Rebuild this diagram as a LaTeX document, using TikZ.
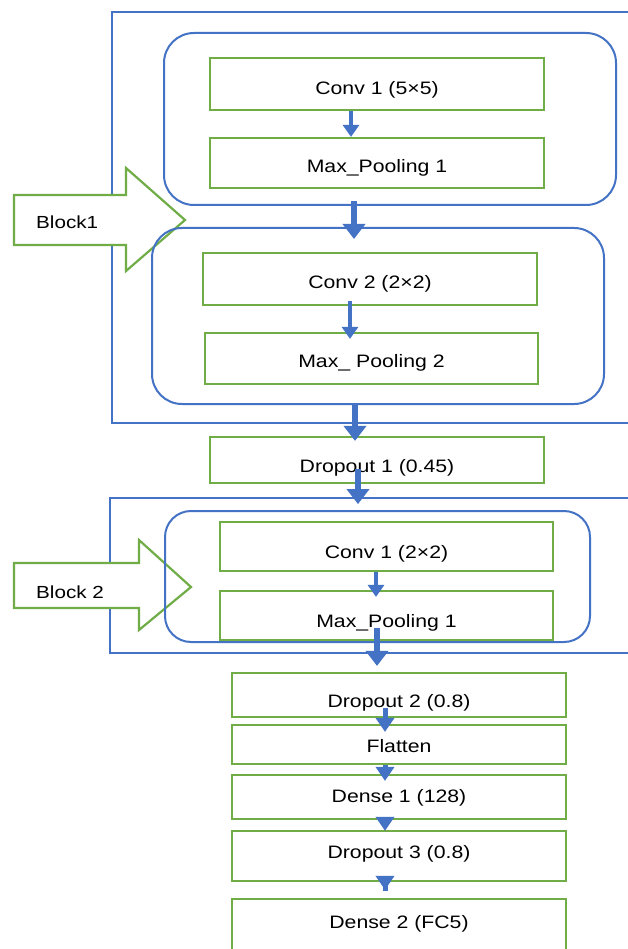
\documentclass[tikz,border=0pt]{standalone}
\usepackage{fontspec}
\setmainfont{Liberation Sans}[FakeStretch=1.18]
\usetikzlibrary{arrows.meta}
\definecolor{bblue}{HTML}{4472C4}
\definecolor{bgreen}{HTML}{70AD47}
\begin{document}
\begin{tikzpicture}[x=1pt,y=-1pt,
  lay/.style={draw=bgreen, line width=2.2pt, fill=white, minimum width=334pt, inner sep=0pt, text depth=0pt, font=\fontsize{18}{20}\selectfont},
  rbox/.style={draw=bblue, line width=2pt, rounded corners=30pt, inner sep=0pt},
  obox/.style={draw=bblue, line width=1.8pt, inner sep=0pt},
  barrow/.style={draw=bgreen, line width=2.2pt, fill=white, line join=miter},
  lbl/.style={inner sep=0pt, font=\fontsize{17.5}{20}\selectfont},
  thinarr/.style={draw=bblue, line width=3.5pt, -{Triangle[width=16pt,length=12pt]}},
  thickarr/.style={draw=bblue, line width=6pt, -{Triangle[width=22pt,length=15pt]}},
  midarr/.style={draw=bblue, line width=5pt, -{Triangle[width=18pt,length=14pt]}}
]
\clip (0,0) rectangle (628,949);
\fill[white] (0,0) rectangle (628,949);

% outer blocks
\node[obox, minimum width=600pt, minimum height=411pt] (ob1) at (412,217.5) {};
\node[obox, minimum width=600pt, minimum height=155pt] (ob2) at (410,575.5) {};

% block arrows
\draw[barrow] (14,195) -- (126,195) -- (126,168) -- (185,220) -- (126,271) -- (126,245) -- (14,245) -- cycle;
\draw[barrow] (14,563) -- (139,563) -- (139,540) -- (191,587) -- (139,630) -- (139,608) -- (14,608) -- cycle;
\node[lbl, anchor=base west] (b1) at (36,229) {Block1};
\node[lbl, anchor=base west] (b2) at (36,598) {Block 2};

% rounded boxes
\node[rbox, minimum width=452pt, minimum height=172pt] (rb1) at (390,119) {};
\node[rbox, minimum width=452pt, minimum height=176pt] (rb2) at (378,316) {};
\node[rbox, rounded corners=26pt, minimum width=425pt, minimum height=131pt] (rb3) at (377.5,576.5) {};

% layers
\node[lay, minimum height=52pt, text height=22pt] (c1) at (377,84) {Conv 1 (5×5)};
\node[lay, minimum height=50pt, text height=20pt] (m1) at (377,163) {Max\_Pooling 1};
\node[lay, minimum height=52pt, text height=18pt] (c2) at (370,279) {Conv 2 (2×2)};
\node[lay, minimum width=333pt, minimum height=51pt, text height=17pt] (m2) at (371.5,358.5) {Max\_ Pooling 2};
\node[lay, minimum height=46pt, text height=24pt] (d1) at (377,460) {Dropout 1 (0.45)};
\node[lay, minimum width=333pt, minimum height=49pt, text height=23pt] (c3) at (386.5,546.5) {Conv 1 (2×2)};
\node[lay, minimum width=333pt, minimum height=49pt, text height=23pt] (m3) at (386.5,615.5) {Max\_Pooling 1};
\node[lay, minimum height=44pt, text height=24pt] (d2) at (399,695) {Dropout 2 (0.8)};
\node[lay, minimum height=39pt, text height=15pt] (fl) at (399,744.5) {Flatten};
\node[lay, minimum height=44pt, text height=10pt] (de1) at (399,797) {Dense 1 (128)};
\node[lay, minimum height=50pt, text height=4pt] (d3) at (399,856) {Dropout 3 (0.8)};
\node[lay, minimum height=76pt, text height=0pt, text depth=18pt] (de2) at (399,937) {Dense 2 (FC5)};

% x positions of connectors
\coordinate (X1) at (351,0);
\coordinate (X2) at (354,0);
\coordinate (X3) at (350,0);
\coordinate (X4) at (355,0);
\coordinate (X5) at (358,0);
\coordinate (X6) at (376,0);
\coordinate (X7) at (377,0);
\coordinate (X8) at (385,0);

% connectors
\draw[thinarr] (c1.south -| X1) -- (m1.north -| X1);
\draw[thickarr, shorten <=-5pt, shorten >=-12pt] (rb1.south -| X2) -- (rb2.north -| X2);
\draw[thinarr, shorten <=-5pt, shorten >=-7pt] (c2.south -| X3) -- (m2.north -| X3);
\draw[thickarr, shorten <=-2pt, shorten >=-5pt] (rb2.south -| X4) -- (d1.north -| X4);
\draw[thickarr, shorten <=-15pt, shorten >=-7pt] (d1.south -| X5) -- (ob2.north -| X5);
\draw[thinarr, shorten >=-7pt] (c3.south -| X6) -- (m3.north -| X6);
\draw[thickarr, shorten <=-13pt, shorten >=6pt] (m3.south -| X7) -- (d2.north -| X7);
\draw[midarr, shorten <=-10pt, shorten >=-8pt] (d2.south -| X8) -- (fl.north -| X8);
\draw[midarr, shorten >=-7pt] (fl.south -| X8) -- (de1.north -| X8);
\draw[midarr, shorten <=-2pt, shorten >=-1pt] (de1.south -| X8) -- (d3.north -| X8);
\draw[midarr, shorten <=-9pt, shorten >=8pt] (d3.south -| X8) -- (de2.north -| X8);
\end{tikzpicture}
\end{document}
